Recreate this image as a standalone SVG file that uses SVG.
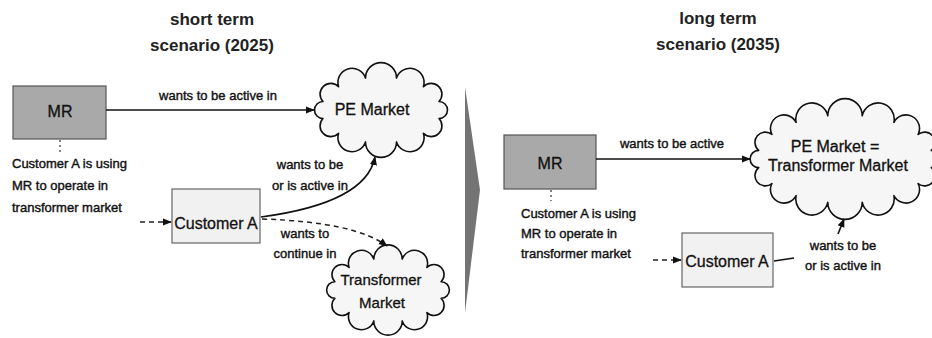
<svg xmlns="http://www.w3.org/2000/svg" width="932" height="338" viewBox="0 0 932 338">
  <defs>
    <style>
      .title { font-family: "Liberation Sans", Arial, sans-serif; font-size: 17px; font-weight: bold; fill: #222; text-anchor: middle; }
      .node-label { font-family: "Liberation Sans", Arial, sans-serif; font-size: 16px; fill: #111; stroke: #111; stroke-width: 0.3; text-anchor: middle; }
      .edge-label { font-family: "Liberation Sans", Arial, sans-serif; font-size: 13px; fill: #111; stroke: #111; stroke-width: 0.4; text-anchor: middle; }
      .note { font-family: "Liberation Sans", Arial, sans-serif; font-size: 13px; fill: #111; stroke: #111; stroke-width: 0.4; }
      .box-dark { fill: #a9a9a9; stroke: #555; stroke-width: 1.2; }
      .box-light { fill: #f1f1f1; stroke: #666; stroke-width: 1.2; }
      .cloud { fill: #f6f6f6; stroke: #111; stroke-width: 1.6; stroke-linejoin: round; }
      .link { fill: none; stroke: #111; stroke-width: 1.6; }
      .link-dash { fill: none; stroke: #222; stroke-width: 1.5; stroke-dasharray: 5 4; }
      .tick { fill: none; stroke: #333; stroke-width: 1.2; stroke-dasharray: 2 3; }
    </style>
    <marker id="arrow" viewBox="0 0 10 10" refX="9" refY="5" markerWidth="9" markerHeight="9" markerUnits="userSpaceOnUse" orient="auto">
      <path d="M0,1 L10,5 L0,9 Z" fill="#111"/>
    </marker>
  </defs>

  <rect width="932" height="338" fill="#fff"/>

  <!-- headings -->
  <g id="titles">
    <text class="title" x="212" y="25">short term</text>
    <text class="title" x="212" y="51">scenario (2025)</text>
    <text class="title" x="718" y="24">long term</text>
    <text class="title" x="718" y="50">scenario (2035)</text>
  </g>

  <!-- divider between the two scenarios -->
  <g id="divider">
    <polygon points="465,87 480,190 465,313" fill="#747474"/>
  </g>

  <!-- short term scenario -->
  <g id="mr-short">
    <rect class="box-dark" x="13" y="86" width="93" height="53"/>
    <text class="node-label" x="60" y="117">MR</text>
  </g>

  <g id="note-short">
    <line class="tick" x1="60" y1="140" x2="60" y2="153"/>
    <text class="note" x="12" y="168">Customer A is using</text>
    <text class="note" x="12" y="190">MR to operate in</text>
    <text class="note" x="12" y="212">transformer market</text>
  </g>

  <g id="customer-a-short">
    <rect class="box-light" x="172" y="189" width="88" height="54"/>
    <text class="node-label" x="216" y="229">Customer A</text>
  </g>

  <g id="pe-market-short">
    <path class="cloud" d="M439,118.5 A1 1 0 0 1 423.4,133.3 A1 1 0 0 1 396.5,141.9 A1 1 0 0 1 365.5,141.9 A1 1 0 0 1 338.6,133.3 A1 1 0 0 1 323,118.5 A1 1 0 0 1 323,101.5 A1 1 0 0 1 338.6,86.7 A1 1 0 0 1 365.5,78.1 A1 1 0 0 1 396.5,78.1 A1 1 0 0 1 423.4,86.7 A1 1 0 0 1 439,101.5 A1 1 0 0 1 439,118.5 Z"/>
    <text class="node-label" x="372" y="115">PE Market</text>
  </g>

  <g id="transformer-market-short">
    <path class="cloud" d="M441.1,298.3 A1 1 0 0 1 426.9,312.6 A1 1 0 0 1 402.2,320.9 A1 1 0 0 1 373.8,320.9 A1 1 0 0 1 349.1,312.6 A1 1 0 0 1 334.9,298.3 A1 1 0 0 1 334.9,281.7 A1 1 0 0 1 349.1,267.4 A1 1 0 0 1 373.8,259.1 A1 1 0 0 1 402.2,259.1 A1 1 0 0 1 426.9,267.4 A1 1 0 0 1 441.1,281.7 A1 1 0 0 1 441.1,298.3 Z"/>
    <text class="node-label" x="381" y="285" style="font-size:15px">Transformer</text>
    <text class="node-label" x="382" y="308" style="font-size:15px">Market</text>
  </g>

  <!-- long term scenario -->
  <g id="mr-long">
    <rect class="box-dark" x="504" y="135" width="92" height="54"/>
    <text class="node-label" x="550" y="169">MR</text>
  </g>

  <g id="note-long">
    <line class="tick" x1="551" y1="190" x2="551" y2="201"/>
    <text class="note" x="521" y="218">Customer A is using</text>
    <text class="note" x="521" y="238">MR to operate in</text>
    <text class="note" x="521" y="258">transformer market</text>
  </g>

  <g id="customer-a-long">
    <rect class="box-light" x="682" y="233" width="91" height="54"/>
    <text class="node-label" x="727" y="267">Customer A</text>
  </g>

  <g id="pe-transformer-market-long">
    <path class="cloud" d="M931.3,167.6 A1 1 0 0 1 918.1,183.5 A1 1 0 0 1 893.9,195.6 A1 1 0 0 1 862.2,202.2 A1 1 0 0 1 827.8,202.2 A1 1 0 0 1 796.1,195.6 A1 1 0 0 1 771.9,183.5 A1 1 0 0 1 758.7,167.6 A1 1 0 0 1 758.7,150.4 A1 1 0 0 1 771.9,134.5 A1 1 0 0 1 796.1,122.4 A1 1 0 0 1 827.8,115.8 A1 1 0 0 1 862.2,115.8 A1 1 0 0 1 893.9,122.4 A1 1 0 0 1 918.1,134.5 A1 1 0 0 1 931.3,150.4 A1 1 0 0 1 931.3,167.6 Z"/>
    <text class="node-label" x="835" y="152">PE Market =</text>
    <text class="node-label" x="838" y="171">Transformer Market</text>
  </g>

  <!-- connectors -->
  <g id="connectors">
    <!-- short term -->
    <line class="link" x1="106" y1="110" x2="314" y2="110" marker-end="url(#arrow)"/>
    <text class="edge-label" x="218" y="100">wants to be active in</text>

    <line class="link-dash" x1="140" y1="222" x2="171" y2="222" marker-end="url(#arrow)"/>

    <path class="link" d="M261,217 Q366,203 375,157" marker-end="url(#arrow)"/>
    <text class="edge-label" x="310" y="169">wants  to be</text>
    <text class="edge-label" x="310" y="190">or is active in</text>

    <path class="link-dash" d="M262,219 Q355,222 387,246" marker-end="url(#arrow)"/>
    <text class="edge-label" x="305" y="238">wants to</text>
    <text class="edge-label" x="305" y="258">continue in</text>

    <!-- long term -->
    <line class="link" x1="596" y1="159" x2="750" y2="159" marker-end="url(#arrow)"/>
    <text class="edge-label" x="672" y="148">wants to be active</text>

    <line class="link-dash" x1="653" y1="260" x2="681" y2="260" marker-end="url(#arrow)"/>

    <path class="link" d="M774,261 L794,258"/>
    <line class="link" x1="838" y1="234" x2="844" y2="219" marker-end="url(#arrow)"/>
    <text class="edge-label" x="843" y="250">wants  to be</text>
    <text class="edge-label" x="843" y="270">or is active in</text>
  </g>
</svg>
